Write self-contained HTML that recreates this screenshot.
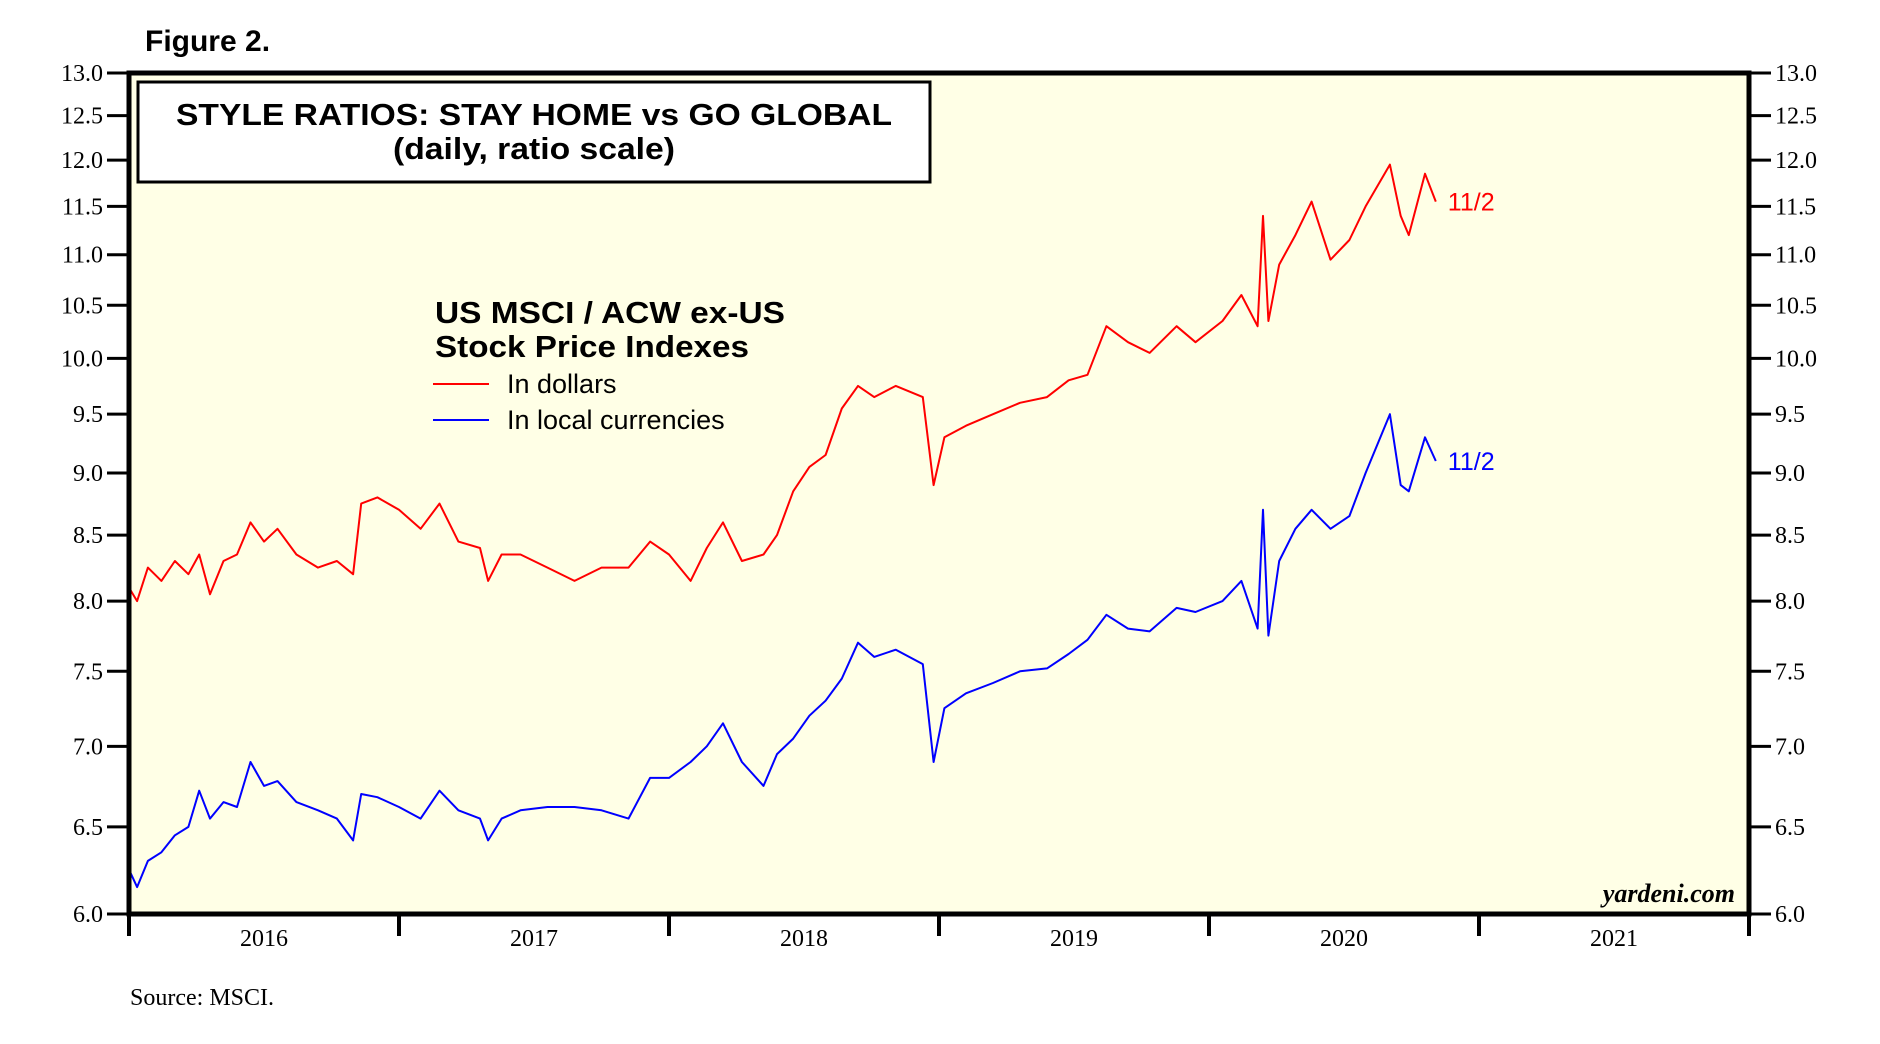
<!DOCTYPE html>
<html><head><meta charset="utf-8"><style>
body{margin:0;background:#fff;}
svg{display:block;}
</style></head><body>
<svg id="chart" width="1880" height="1044" viewBox="0 0 1880 1044" xmlns="http://www.w3.org/2000/svg">
<text x="145" y="51" font-family="Liberation Sans, sans-serif" font-weight="bold" font-size="30">Figure 2.</text>
<rect x="129" y="73" width="1620" height="841" fill="#ffffe6"/>
<g id="series"></g>
<rect x="129" y="73" width="1620" height="841" fill="none" stroke="#000" stroke-width="5"/>
<g id="axes"></g>
<rect x="138" y="82" width="792" height="100" fill="#fff" stroke="#000" stroke-width="3"/>
<text x="534" y="125" text-anchor="middle" font-family="Liberation Sans, sans-serif" font-weight="bold" font-size="31" textLength="716" lengthAdjust="spacingAndGlyphs">STYLE RATIOS: STAY HOME vs GO GLOBAL</text>
<text x="534" y="159" text-anchor="middle" font-family="Liberation Sans, sans-serif" font-weight="bold" font-size="31" textLength="282" lengthAdjust="spacingAndGlyphs">(daily, ratio scale)</text>
<text x="435" y="323" font-family="Liberation Sans, sans-serif" font-weight="bold" font-size="31" textLength="350" lengthAdjust="spacingAndGlyphs">US MSCI / ACW ex-US</text>
<text x="435" y="357" font-family="Liberation Sans, sans-serif" font-weight="bold" font-size="31" textLength="314" lengthAdjust="spacingAndGlyphs">Stock Price Indexes</text>
<line x1="433" y1="384" x2="489" y2="384" stroke="#f00" stroke-width="2"/>
<text x="507" y="393" font-family="Liberation Sans, sans-serif" font-size="27">In dollars</text>
<line x1="433" y1="420" x2="489" y2="420" stroke="#00f" stroke-width="2"/>
<text x="507" y="429" font-family="Liberation Sans, sans-serif" font-size="27">In local currencies</text>
<text x="1735" y="902" text-anchor="end" font-family="Liberation Serif, serif" font-weight="bold" font-style="italic" font-size="26">yardeni.com</text>
<text x="130" y="1005" font-family="Liberation Serif, serif" font-size="24">Source: MSCI.</text>
</svg>
<script>
const dates=[2016.00,2016.03,2016.07,2016.12,2016.17,2016.22,2016.26,2016.30,2016.35,2016.40,2016.45,2016.50,2016.55,2016.62,2016.70,2016.77,2016.83,2016.86,2016.92,2017.00,2017.08,2017.15,2017.22,2017.30,2017.33,2017.38,2017.45,2017.55,2017.65,2017.75,2017.85,2017.93,2018.00,2018.08,2018.14,2018.20,2018.27,2018.35,2018.40,2018.46,2018.52,2018.58,2018.64,2018.70,2018.76,2018.84,2018.94,2018.98,2019.02,2019.10,2019.20,2019.30,2019.40,2019.48,2019.55,2019.62,2019.70,2019.78,2019.88,2019.95,2020.05,2020.12,2020.18,2020.20,2020.22,2020.26,2020.32,2020.38,2020.45,2020.52,2020.58,2020.67,2020.71,2020.74,2020.80,2020.84];
const dollars=[8.10,8.00,8.25,8.15,8.30,8.20,8.35,8.05,8.30,8.35,8.60,8.45,8.55,8.35,8.25,8.30,8.20,8.75,8.80,8.70,8.55,8.75,8.45,8.40,8.15,8.35,8.35,8.25,8.15,8.25,8.25,8.45,8.35,8.15,8.40,8.60,8.30,8.35,8.50,8.85,9.05,9.15,9.55,9.75,9.65,9.75,9.65,8.90,9.30,9.40,9.50,9.60,9.65,9.80,9.85,10.30,10.15,10.05,10.30,10.15,10.35,10.60,10.30,11.40,10.35,10.90,11.20,11.55,10.95,11.15,11.50,11.95,11.40,11.20,11.85,11.55];
const local=[6.25,6.15,6.30,6.35,6.45,6.50,6.72,6.55,6.65,6.62,6.90,6.75,6.78,6.65,6.60,6.55,6.42,6.70,6.68,6.62,6.55,6.72,6.60,6.55,6.42,6.55,6.60,6.62,6.62,6.60,6.55,6.80,6.80,6.90,7.00,7.15,6.90,6.75,6.95,7.05,7.20,7.30,7.45,7.70,7.60,7.65,7.55,6.90,7.25,7.35,7.42,7.50,7.52,7.62,7.72,7.90,7.80,7.78,7.95,7.92,8.00,8.15,7.80,8.70,7.75,8.30,8.55,8.70,8.55,8.65,9.00,9.50,8.90,8.85,9.30,9.10];
const yTicks=[6.0,6.5,7.0,7.5,8.0,8.5,9.0,9.5,10.0,10.5,11.0,11.5,12.0,12.5,13.0];
const yearLabels=["2016","2017","2018","2019","2020","2021"];
const endLabel="11/2";

const NS="http://www.w3.org/2000/svg";
const L=129,R=1749,T=73,B=914;
function x(d){return L+(d-2016)/6*(R-L);}
function y(v){return B-Math.log(v/6)/Math.log(13/6)*(B-T);}
function mk(tag,attrs,parent){const e=document.createElementNS(NS,tag);for(const k in attrs)e.setAttribute(k,attrs[k]);parent.appendChild(e);return e;}
const axes=document.getElementById('axes');
const series=document.getElementById('series');
yTicks.forEach(v=>{
  const l1=mk('line',{x1:L-22,x2:L,y1:y(v),y2:y(v),stroke:'#000','stroke-width':3},axes);
  
  
  const l2=mk('line',{x1:R,x2:R+22,y1:y(v),y2:y(v),stroke:'#000','stroke-width':3},axes);
  
  
  const t1=mk('text',{x:L-26,y:y(v)+8,'text-anchor':'end','font-family':'Liberation Serif, serif','font-size':24},axes);
  t1.textContent=v.toFixed(1);
  
  
  const t2=mk('text',{x:R+26,y:y(v)+8,'font-family':'Liberation Serif, serif','font-size':24},axes);
  t2.textContent=v.toFixed(1);
  
  
});
for(let i=0;i<=yearLabels.length;i++){
  const tk=mk('line',{x1:x(2016+i),x2:x(2016+i),y1:B,y2:B+22,stroke:'#000','stroke-width':4},axes);
  
  
}
yearLabels.forEach((lab,i)=>{
  const t=mk('text',{x:x(2016.5+i),y:946,'text-anchor':'middle','font-family':'Liberation Serif, serif','font-size':24},axes);
  t.textContent=lab;
  
  
});
function line(vals,color,name){
  const d=vals.map((v,i)=>(i?'L':'M')+x(dates[i]).toFixed(1)+','+y(v).toFixed(1)).join('');
  const p=mk('path',{d:d,fill:'none',stroke:color,'stroke-width':2,'stroke-linejoin':'round'},series);
  
  
  const last=vals.length-1;
  const t=mk('text',{x:x(dates[last])+12,y:y(vals[last])+9,fill:color,'font-family':'Liberation Sans, sans-serif','font-size':25},series);
  t.textContent=endLabel;
  
  
}
line(dollars,'#f00','dollars-line');
line(local,'#00f','local-currencies-line');
</script>
</body></html>
